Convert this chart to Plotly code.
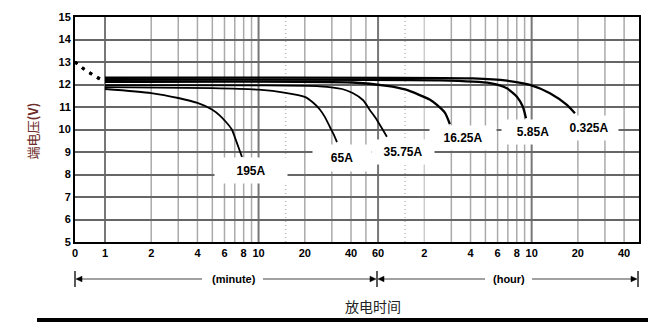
import numpy as np
import plotly.graph_objects as go

# Discharge curves: time in minutes, terminal voltage in volts
T_ZERO = 0.638  # left edge of the log time axis, labelled "0"

t_195 = [1, 2, 3, 4, 5, 5.6, 6.2, 6.7, 7.1, 7.5, 7.8]
v_195 = [11.8, 11.62, 11.4, 11.18, 10.88, 10.62, 10.3, 10.0, 9.55, 9.1, 8.78]

t_65 = [1, 5, 10, 15, 20, 22.6, 25, 27, 29.2, 31, 32.4]
v_65 = [11.88, 11.84, 11.77, 11.63, 11.45, 11.2, 10.9, 10.56, 10.1, 9.75, 9.44]

t_3575 = [1, 10, 25, 35, 41, 48, 53, 58, 63, 68.5]
v_3575 = [11.97, 11.96, 11.92, 11.8, 11.62, 11.3, 10.87, 10.5, 10.1, 9.68]

t_1625 = [1, 41, 68.5, 90, 112, 130, 145, 164, 176]
v_1625 = [12.12, 12.09, 11.94, 11.78, 11.53, 11.33, 11.09, 10.73, 10.24]

t_585 = [1, 152, 321, 414, 481, 526, 551]
v_585 = [12.21, 12.18, 12.06, 11.83, 11.46, 11.01, 10.5]

t_0325 = [1, 249, 414, 585, 789, 1018, 1148]
v_0325 = [12.3, 12.27, 12.17, 11.98, 11.61, 11.09, 10.72]

series = [
    ("195A", t_195, v_195),
    ("65A", t_65, v_65),
    ("35.75A", t_3575, v_3575),
    ("16.25A", t_1625, v_1625),
    ("5.85A", t_585, v_585),
    ("0.325A", t_0325, v_0325),
]

# Initial voltage at t = 0
v_start = 13.0

# Curve labels: (text, minutes, volts, box width, box height)
labels = [
    ("195A", 8.92, 8.2, 72, 25),
    ("65A", 34.9, 8.73, 58, 26),
    ("35.75A", 87.1, 9.0, 62, 24),
    ("16.25A", 214, 9.62, 66, 24),
    ("5.85A", 611, 9.89, 62, 24),
    ("0.325A", 1416, 10.07, 58, 24),
]

# Time axis ticks (minutes) and their labels
tick_vals = [T_ZERO, 1, 2, 4, 6, 8, 10, 20, 40, 60, 120, 240, 360, 480, 600, 1200, 2400]
tick_text = ["0", "1", "2", "4", "6", "8", "10", "20", "40", "60",
             "2", "4", "6", "8", "10", "20", "40"]
T_END = 3000

grid_major = [1, 10, 60, 600]
grid_minor = [2, 3, 4, 5, 6, 7, 8, 9, 20, 30, 40, 50,
              180, 240, 300, 360, 420, 480, 540, 1200, 1800, 2400]
grid_dotted = [15, 90]
grid_light = [120]

FONT = "Liberation Sans, Arial, sans-serif"

fig = go.Figure()

# dotted initial drop from t = 0 towards the start of each curve
for name, t, v in series[::2]:
    fig.add_trace(go.Scatter(
        x=[T_ZERO, 0.75, 0.95], y=[v_start, 12.62, 12.2 + 0.1 * (v[0] - 12.0)],
        mode="lines", line=dict(color="black", width=2.8, dash="3px,6px"),
        hoverinfo="skip", showlegend=False))

for name, t, v in series:
    fig.add_trace(go.Scatter(
        x=t, y=v, mode="lines", name=name,
        line=dict(color="black", width=2.3 if v[0] > 12.05 else 1.8,
                  shape="spline", smoothing=0.6),
        showlegend=False))

shapes = []
for g in grid_minor:
    shapes.append(dict(type="line", xref="x", yref="paper", x0=g, x1=g, y0=0, y1=1,
                       line=dict(color="#aaaaaa", width=1.5), layer="below"))
for g in grid_light:
    shapes.append(dict(type="line", xref="x", yref="paper", x0=g, x1=g, y0=0, y1=1,
                       line=dict(color="#cccccc", width=1.5), layer="below"))
for g in grid_dotted:
    shapes.append(dict(type="line", xref="x", yref="paper", x0=g, x1=g, y0=0, y1=1,
                       line=dict(color="#bbbbbb", width=1.5, dash="1px,3px"), layer="below"))
for g in grid_major:
    shapes.append(dict(type="line", xref="x", yref="paper", x0=g, x1=g, y0=0, y1=1,
                       line=dict(color="#777777", width=2), layer="below"))


# decorations below the plot area, positioned in pixels of the 671x331 page
def px(x):
    return (x - 75) / 564


def py(y):
    return (242 - y) / 225


def seg(x0, y0, x1, y1, w=1.2, color="black"):
    shapes.append(dict(type="line", xref="paper", yref="paper",
                       x0=px(x0), x1=px(x1), y0=py(y0), y1=py(y1),
                       line=dict(color=color, width=w)))


def tri(tip_x, y, direction):
    # small filled arrowhead; direction +1 points right, -1 points left
    b = tip_x - 6 * direction
    path = (f"M {px(tip_x)} {py(y)} L {px(b)} {py(y - 2.8)} "
            f"L {px(b)} {py(y + 2.8)} Z")
    shapes.append(dict(type="path", xref="paper", yref="paper", path=path,
                       fillcolor="black", line=dict(color="black", width=0.5)))


ARROW_Y = 279
for bx in (75, 377, 638):
    seg(bx, 271, bx, 287, w=1.3)
seg(77, ARROW_Y, 202, ARROW_Y, color="#444")
seg(263, ARROW_Y, 374, ARROW_Y, color="#444")
seg(380, ARROW_Y, 485, ARROW_Y, color="#444")
seg(532, ARROW_Y, 636, ARROW_Y, color="#444")
tri(76, ARROW_Y, -1)
tri(376, ARROW_Y, 1)
tri(378, ARROW_Y, -1)
tri(637, ARROW_Y, 1)

# heavy rule at the bottom
seg(37, 320, 648, 320, w=4)

annotations = []
for text, tx, vy, w, h in labels:
    annotations.append(dict(
        x=np.log10(tx), y=vy, xref="x", yref="y", text=text, showarrow=False,
        font=dict(family=FONT, size=12, color="black", weight="bold"),
        bgcolor="white", width=w, height=h, borderpad=0))

mid = dict(xanchor="center", yanchor="middle", showarrow=False, xref="paper", yref="paper")
annotations += [
    dict(x=px(234), y=py(279), text="(minute)",
         font=dict(family=FONT, size=11, color="black", weight="bold"), **mid),
    dict(x=px(509), y=py(279), text="(hour)",
         font=dict(family=FONT, size=11, color="black", weight="bold"), **mid),
    dict(x=px(373), y=py(306), text="放电时间",
         font=dict(family="Noto Sans CJK SC", size=14, color="#222"), **mid),
    dict(x=px(31.5), y=py(131), text="端电压<b>(V)</b>", textangle=-90,
         font=dict(family="Noto Sans CJK SC", size=13, color="#6e2b2b"), **mid),
]

fig.update_layout(
    width=671, height=331,
    margin=dict(l=75, r=32, t=17, b=89),
    paper_bgcolor="white", plot_bgcolor="white",
    shapes=shapes, annotations=annotations,
    xaxis=dict(type="log", range=[np.log10(T_ZERO), np.log10(T_END)],
               tickvals=tick_vals, ticktext=tick_text, showgrid=False,
               ticks="", tickfont=dict(family=FONT, size=11, color="black", weight="bold"),
               showline=True, linecolor="black", linewidth=2, mirror=True, zeroline=False),
    yaxis=dict(range=[5, 15], dtick=1, showgrid=True, gridcolor="#666666", gridwidth=1.5,
               ticks="", tickfont=dict(family=FONT, size=11, color="black", weight="bold"),
               showline=True, linecolor="black", linewidth=2, mirror=True, zeroline=False),
)

fig.write_html("out.html")
